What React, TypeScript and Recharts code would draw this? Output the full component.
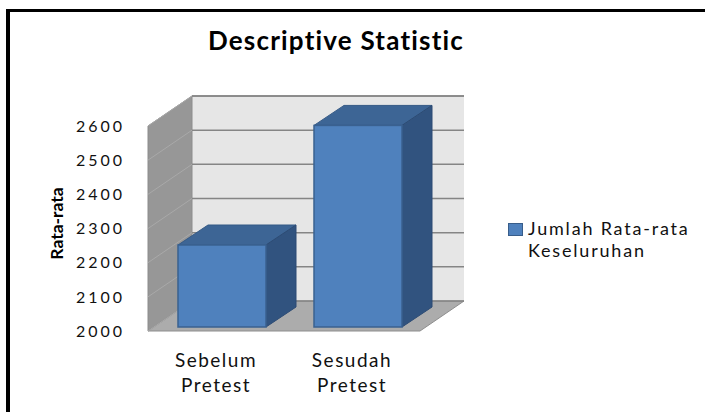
import React from "react";
import { BarChart, Bar, XAxis, YAxis, CartesianGrid, Legend } from "recharts";

const categories = ["Sebelum Pretest", "Sesudah Pretest"];
const rataRata = [2240, 2590];
const yTicks = [2000, 2100, 2200, 2300, 2400, 2500, 2600];
const seriesName = "Jumlah Rata-rata Keseluruhan";

const data = categories.map((name, i) => ({ name, value: rataRata[i] }));

// depth offsets of the fake 3D box
const WALL_DX = 44;
const WALL_DY = -30;
const BAR_DX = 30;
const BAR_DY = -20;
const SHIFT_X = 6;
const SHIFT_Y = -4;

const LEGEND_W = 197;
const FONT = "Lato, 'Open Sans', sans-serif";

// walls + floor are painted with the first grid line, then each line goes on back and side wall
const wallLine = (p: any) => {
  const { x, y, width, height, y1, index } = p;
  const bottom = y + height;
  return (
    <g>
      {index === 0 && (
        <g>
          <rect
            x={x + WALL_DX}
            y={y + WALL_DY}
            width={width}
            height={height}
            fill="#e6e6e6"
          />
          <polygon
            points={`${x},${bottom} ${x},${y} ${x + WALL_DX},${y + WALL_DY} ${x + WALL_DX},${bottom + WALL_DY}`}
            fill="#979797"
            stroke="#8c8c8c"
          />
          <polygon
            points={`${x},${bottom} ${x + width},${bottom} ${x + width + WALL_DX},${bottom + WALL_DY} ${x + WALL_DX},${bottom + WALL_DY}`}
            fill="#acacac"
            stroke="#8e8e8e"
          />
          <line
            x1={x + WALL_DX}
            y1={y + WALL_DY}
            x2={x + width + WALL_DX}
            y2={y + WALL_DY}
            stroke="#8a8a8a"
            strokeWidth={1.5}
          />
        </g>
      )}
      <line
        x1={x + WALL_DX}
        y1={y1 + WALL_DY}
        x2={x + width + WALL_DX}
        y2={y1 + WALL_DY}
        stroke="#858585"
        strokeWidth={1.5}
      />
      <line
        x1={x}
        y1={y1}
        x2={x + WALL_DX}
        y2={y1 + WALL_DY}
        stroke="#a9a9a9"
        strokeWidth={1}
      />
    </g>
  );
};

const Bar3D = (p: any) => {
  const { x, y, width, height } = p;
  const fx = x + SHIFT_X;
  const fy = y + SHIFT_Y;
  const top = `${fx},${fy} ${fx + BAR_DX},${fy + BAR_DY} ${fx + width + BAR_DX},${fy + BAR_DY} ${fx + width},${fy}`;
  const side = `${fx + width},${fy} ${fx + width + BAR_DX},${fy + BAR_DY} ${fx + width + BAR_DX},${fy + height + BAR_DY} ${fx + width},${fy + height}`;
  return (
    <g>
      <polygon points={top} fill="#3d6595" stroke="#355a86" strokeWidth={1} />
      <polygon points={side} fill="#31537f" stroke="#2c4b74" strokeWidth={1} />
      <rect
        x={fx}
        y={fy}
        width={width}
        height={height}
        fill="#4f81bd"
        stroke="#3a6190"
        strokeWidth={1.5}
      />
    </g>
  );
};

const CategoryTick = ({ x, y, payload }: any) => {
  const [first, second] = String(payload.value).split(" ");
  return (
    <text
      x={x}
      y={y}
      textAnchor="middle"
      fontFamily={FONT}
      fontSize={19}
      letterSpacing={1.5}
      fill="#111"
    >
      <tspan x={x} dy={36}>
        {first}
      </tspan>
      <tspan x={x} dy={25}>
        {second}
      </tspan>
    </text>
  );
};

const renderYLabel = (props: any) => {
  const vb = props.viewBox || { x: 0, y: 0, width: 0, height: 0 };
  const lx = vb.x + 56;
  const ly = vb.y + vb.height / 2 - 5;
  return (
    <text
      x={lx}
      y={ly}
      transform={`rotate(-90 ${lx} ${ly})`}
      textAnchor="middle"
      dominantBaseline="central"
      fontFamily={FONT}
      fontWeight="bold"
      fontSize={17.5}
      fill="#000"
    >
      Rata-rata
    </text>
  );
};

const LegendContent = ({ payload }: any) => (
  <div style={{ fontFamily: FONT }}>
    {(payload || []).map((entry: any) => (
      <div key={entry.value} style={{ display: "flex", alignItems: "flex-start" }}>
        <div
          style={{
            width: 13,
            height: 11,
            marginTop: 6,
            marginRight: 5,
            background: "#4f81bd",
            border: "1px solid #385d8a",
            flex: "none",
          }}
        />
        <div
          style={{
            width: 174,
            fontSize: 18,
            lineHeight: "22px",
            letterSpacing: 1.8,
            color: "#111",
          }}
        >
          {entry.value}
        </div>
      </div>
    ))}
  </div>
);

export default function App() {
  return (
    <div
      style={{
        position: "absolute",
        left: 0,
        top: 0,
        width: 705,
        height: 412,
        background: "#fff",
        overflow: "hidden",
        fontFamily: FONT,
      }}
    >
      <div
        style={{
          position: "absolute",
          left: 6,
          top: 9,
          width: 720,
          height: 420,
          borderLeft: "4px solid #000",
          borderTop: "3px solid #000",
        }}
      />
      <div
        style={{
          position: "absolute",
          left: 0,
          top: 24,
          width: 672,
          textAlign: "center",
          fontSize: 26,
          fontWeight: "bold",
          letterSpacing: 1.2,
          color: "#000",
        }}
      >
        Descriptive Statistic
      </div>
      <div style={{ position: "absolute", left: 0, top: 0 }}>
        <BarChart
          width={705}
          height={412}
          data={data}
          margin={{ top: 126, right: 285 - LEGEND_W, bottom: 21, left: 0 }}
          barSize={88}
        >
          <CartesianGrid
            vertical={false}
            horizontal={wallLine}
            syncWithTicks
          />
          <XAxis
            dataKey="name"
            axisLine={false}
            tickLine={false}
            tickSize={0}
            tickMargin={0}
            height={60}
            interval={0}
            tick={<CategoryTick />}
          />
          <YAxis
            domain={[2000, 2600]}
            ticks={yTicks}
            interval={0}
            width={148}
            axisLine={false}
            tickLine={false}
            tickSize={0}
            tickMargin={23}
            tick={{
              fontFamily: FONT,
              fontSize: 16,
              letterSpacing: 3,
              fill: "#111",
            }}
            label={renderYLabel}
          />
          <Legend
            layout="vertical"
            align="right"
            verticalAlign="top"
            content={<LegendContent />}
            wrapperStyle={{ left: 508, top: 217, width: LEGEND_W }}
          />
          <Bar
            dataKey="value"
            name={seriesName}
            fill="#4f81bd"
            shape={<Bar3D />}
            isAnimationActive={false}
          />
        </BarChart>
      </div>
    </div>
  );
}
